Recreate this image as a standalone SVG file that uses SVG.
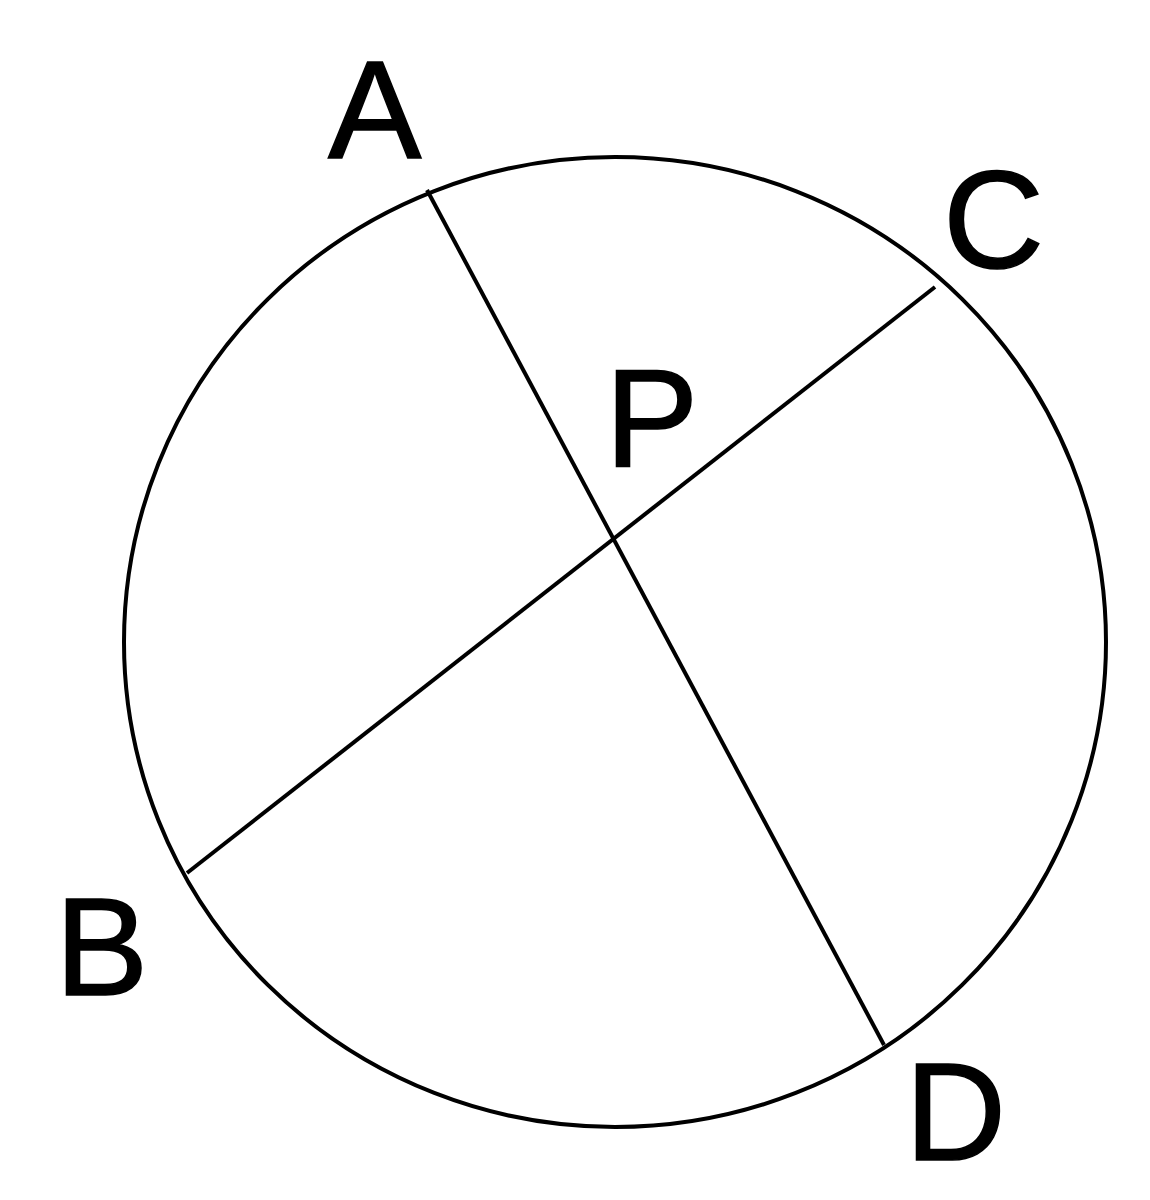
<svg xmlns="http://www.w3.org/2000/svg" width="1150" height="1200" viewBox="0 0 1150 1200">
<style>
.s{fill:none;stroke:#000;stroke-width:4}
.t{font-family:"Liberation Sans",Arial,sans-serif;font-size:140px;fill:#000;stroke:#000;stroke-width:1.5}
</style>
<rect width="1150" height="1200" fill="#fff"/>
<g id="circle"><ellipse class="s" cx="615" cy="642" rx="491" ry="485"/></g>
<g id="connectors">
<line class="s" x1="427" y1="190" x2="884" y2="1045"/>
<line class="s" x1="187" y1="873" x2="935" y2="287"/>
</g>
<g id="labels">
<text class="t" x="328" y="158">A</text>
<text class="t" x="943" y="268">C</text>
<text class="t" x="605" y="466">P</text>
<text class="t" x="55" y="995">B</text>
<text class="t" x="905" y="1160">D</text>
</g>
</svg>
